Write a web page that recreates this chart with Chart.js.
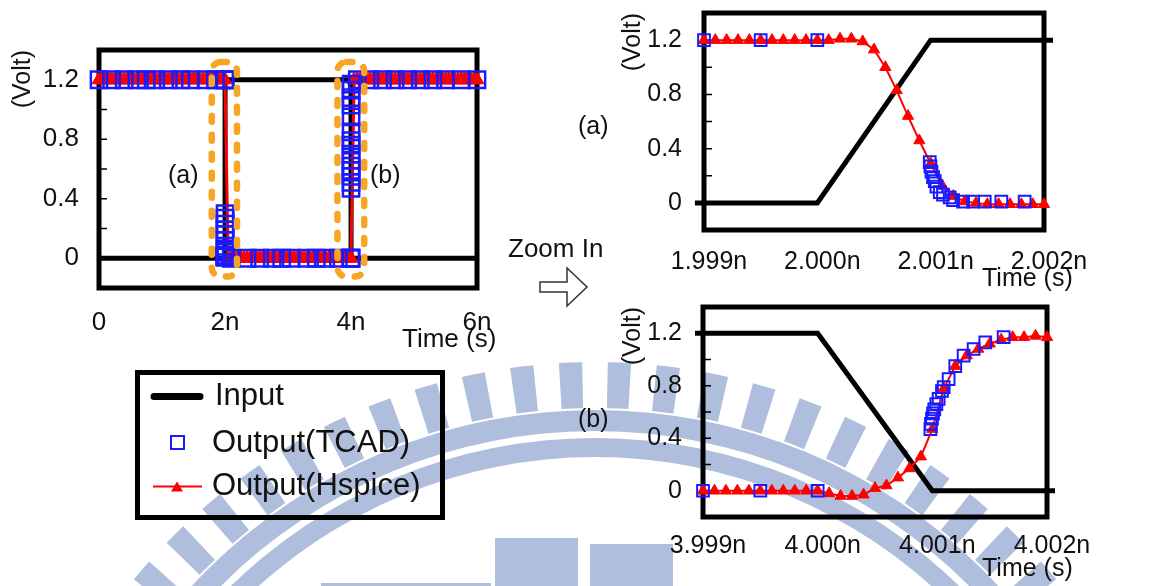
<!DOCTYPE html>
<html>
<head>
<meta charset="utf-8">
<title>Input / Output transient</title>
<script src="https://cdn.jsdelivr.net/npm/chart.js"></script>
<style>
  body { margin: 0; background: #fff; }
  #wrap { position: relative; width: 1163px; height: 586px; overflow: hidden;
          font-family: 'Liberation Sans', Arial, sans-serif; color: #111; }
  canvas, .lbl, svg { position: absolute; }
  .lbl { white-space: nowrap; line-height: 30px; }
</style>
</head>
<body>
<div id="wrap">
  <canvas id="bg" width="1163" height="586" style="left:0;top:0"></canvas>
  <canvas id="full" width="520" height="350" style="left:0;top:0"></canvas>
  <canvas id="zoomA" width="583" height="290" style="left:580px;top:0"></canvas>
  <canvas id="zoomB" width="583" height="296" style="left:580px;top:290px"></canvas>

  <div class="lbl" style="left:402px;top:323px;font-size:26px">Time (s)</div>
  <div class="lbl" style="left:982px;top:262px;font-size:25px">Time (s)</div>
  <div class="lbl" style="left:982px;top:552px;font-size:25px">Time (s)</div>
  <div class="lbl" style="left:168px;top:159px;font-size:25px">(a)</div>
  <div class="lbl" style="left:370px;top:159px;font-size:25px">(b)</div>
  <div class="lbl" style="left:578px;top:110px;font-size:25px">(a)</div>
  <div class="lbl" style="left:578px;top:403px;font-size:25px">(b)</div>
  <div class="lbl" style="left:508px;top:233px;font-size:26px">Zoom In</div>
  <svg style="left:536px;top:264px" width="56" height="46">
    <polygon points="4,18 31,18 31,4 51,23 31,42 31,28 4,28" fill="#fff" stroke="#333" stroke-width="1.5"/>
  </svg>

  <!-- leyenda -->
  <div style="position:absolute;left:135px;top:370px;width:310px;height:150px;border:5px solid #000;box-sizing:border-box"></div>
  <svg style="left:148px;top:380px" width="60" height="120">
    <line x1="6" y1="16.5" x2="52" y2="16.5" stroke="#000" stroke-width="7" stroke-linecap="round"/>
    <rect x="23" y="56" width="13" height="13" fill="none" stroke="#1a1aff" stroke-width="2"/>
    <line x1="5" y1="106.5" x2="54" y2="106.5" stroke="#ff0000" stroke-width="2"/>
    <polygon points="29,101.5 35,111.5 23,111.5" fill="#ff0000"/>
  </svg>
  <div class="lbl" style="left:215px;top:380px;font-size:31px">Input</div>
  <div class="lbl" style="left:212px;top:427px;font-size:31px">Output(TCAD)</div>
  <div class="lbl" style="left:212px;top:470px;font-size:31px">Output(Hspice)</div>
</div>

<script>
// ---- ejes comunes ----
const voltTicks = [0, 0.4, 0.8, 1.2];
const voltLabels = ['0', '0.4', '0.8', '1.2'];
const minorTicks = [0.2, 0.4, 0.6, 0.8, 1.0, 1.2];

// ---- (a) transición de bajada alrededor de 2 ns (tiempos en ns) ----
const xTicksA = [1.999, 2.000, 2.001, 2.002];
const xLabelsA = ['1.999n', '2.000n', '2.001n', '2.002n'];
const inputAT = [1.99892, 2.000, 2.001, 2.00208];
const inputAV = [0, 0, 1.2, 1.2];
const hspiceAT = [1.9990, 1.9991, 1.9992, 1.9993, 1.9994, 1.9995, 1.9996, 1.9997, 1.9998, 1.9999,
                  2.0000, 2.0001, 2.0002, 2.0003, 2.0004, 2.0005, 2.0006, 2.0007, 2.0008, 2.0009,
                  2.0010, 2.0011, 2.0012, 2.0013, 2.0014, 2.0015, 2.0016, 2.0017, 2.0018, 2.0019, 2.0020];
const hspiceAV = [1.2, 1.2, 1.2, 1.2, 1.2, 1.2, 1.2, 1.2, 1.2, 1.2,
                  1.2, 1.2, 1.21, 1.21, 1.19, 1.13, 1.0, 0.83, 0.64, 0.46,
                  0.29, 0.13, 0.05, 0.01, 0.0, -0.01, -0.01, -0.01, -0.01, -0.01, -0.01];
const tcadAT = [1.9990, 1.9995, 2.0000, 2.000992, 2.000998, 2.001007, 2.001021, 2.001036, 2.001051,
                2.00108, 2.001109, 2.001168, 2.001198, 2.001286, 2.001374, 2.001477, 2.001624, 2.001829];
const tcadAV = [1.2, 1.2, 1.2, 0.30, 0.27, 0.23, 0.19, 0.16, 0.12,
                0.08, 0.06, 0.04, 0.02, 0.01, 0.01, 0.01, 0.01, 0.01];

// ---- (b) transición de subida alrededor de 4 ns ----
const xTicksB = [3.999, 4.000, 4.001, 4.002];
const xLabelsB = ['3.999n', '4.000n', '4.001n', '4.002n'];
const inputBT = [3.99893, 4.000, 4.001, 4.00207];
const inputBV = [1.2, 1.2, 0, 0];
const hspiceBT = [3.9990, 3.9991, 3.9992, 3.9993, 3.9994, 3.9995, 3.9996, 3.9997, 3.9998, 3.9999,
                  4.0000, 4.0001, 4.0002, 4.0003, 4.0004, 4.0005, 4.0006, 4.0007, 4.0008, 4.0009,
                  4.0010, 4.0011, 4.0012, 4.0013, 4.0014, 4.0015, 4.0016, 4.0017, 4.0018, 4.0019, 4.0020];
const hspiceBV = [0, 0, 0, 0, 0, 0, 0, 0, 0, 0,
                  0, -0.02, -0.04, -0.04, -0.03, 0.02, 0.04, 0.10, 0.17, 0.26,
                  0.47, 0.78, 0.95, 1.03, 1.08, 1.12, 1.15, 1.17, 1.17, 1.18, 1.17];
const tcadBT = [3.9990, 3.9995, 4.0000, 4.000983, 4.000988, 4.000997, 4.001006, 4.001017, 4.001035,
                4.001055, 4.001084, 4.001099, 4.001142, 4.0012, 4.001273, 4.00136, 4.001462, 4.001622];
const tcadBV = [0, 0, 0, 0.47, 0.51, 0.55, 0.59, 0.62, 0.66,
                0.70, 0.76, 0.79, 0.85, 0.95, 1.03, 1.08, 1.13, 1.17];

// ---- vista completa 0..6 ns ----
const xTicksFull = [0, 2, 4, 6];
const xLabelsFull = ['0', '2n', '4n', '6n'];
const inputFullT = [0, 2, 2.001, 4, 4.001, 6];
const inputFullV = [0, 0, 1.2, 1.2, 0, 0];
// marcadores Hspice muy densos en las mesetas (forman una banda)
const hsHigh1T = [0, 0.05, 0.1, 0.15, 0.2, 0.25, 0.3, 0.35, 0.4, 0.45, 0.5, 0.55, 0.6, 0.65, 0.7, 0.75,
                  0.8, 0.85, 0.9, 0.95, 1.0, 1.05, 1.1, 1.15, 1.2, 1.25, 1.3, 1.35, 1.4, 1.45, 1.5,
                  1.55, 1.6, 1.65, 1.7, 1.75, 1.8, 1.85, 1.9, 1.95, 2.0];
const hsHigh1V = [1.2, 1.2, 1.2, 1.2, 1.2, 1.2, 1.2, 1.2, 1.2, 1.2, 1.2, 1.2, 1.2, 1.2, 1.2, 1.2,
                  1.2, 1.2, 1.2, 1.2, 1.2, 1.2, 1.2, 1.2, 1.2, 1.2, 1.2, 1.2, 1.2, 1.2, 1.2,
                  1.2, 1.2, 1.2, 1.2, 1.2, 1.2, 1.2, 1.2, 1.2, 1.2];
const hsLowT = [2.05, 2.1, 2.15, 2.2, 2.25, 2.3, 2.35, 2.4, 2.45, 2.5, 2.55, 2.6, 2.65, 2.7, 2.75,
                2.8, 2.85, 2.9, 2.95, 3.0, 3.05, 3.1, 3.15, 3.2, 3.25, 3.3, 3.35, 3.4, 3.45, 3.5,
                3.55, 3.6, 3.65, 3.7, 3.75, 3.8, 3.85, 3.9, 3.95, 4.0];
const hsLowV = [0, 0, 0, 0, 0, 0, 0, 0, 0, 0, 0, 0, 0, 0, 0,
                0, 0, 0, 0, 0, 0, 0, 0, 0, 0, 0, 0, 0, 0, 0,
                0, 0, 0, 0, 0, 0, 0, 0, 0, 0];
const hsHigh2T = [4.05, 4.1, 4.15, 4.2, 4.25, 4.3, 4.35, 4.4, 4.45, 4.5, 4.55, 4.6, 4.65, 4.7, 4.75,
                  4.8, 4.85, 4.9, 4.95, 5.0, 5.05, 5.1, 5.15, 5.2, 5.25, 5.3, 5.35, 5.4, 5.45, 5.5,
                  5.55, 5.6, 5.65, 5.7, 5.75, 5.8, 5.85, 5.9, 5.95, 6.0];
const hsHigh2V = [1.2, 1.2, 1.2, 1.2, 1.2, 1.2, 1.2, 1.2, 1.2, 1.2, 1.2, 1.2, 1.2, 1.2, 1.2,
                  1.2, 1.2, 1.2, 1.2, 1.2, 1.2, 1.2, 1.2, 1.2, 1.2, 1.2, 1.2, 1.2, 1.2, 1.2,
                  1.2, 1.2, 1.2, 1.2, 1.2, 1.2, 1.2, 1.2, 1.2, 1.2];
const tcHigh1T = [0, 0.2, 0.4, 0.6, 0.75, 0.9, 1.1, 1.3, 1.45, 1.7, 1.85];
const tcHigh1V = [1.2, 1.2, 1.2, 1.2, 1.2, 1.2, 1.2, 1.2, 1.2, 1.2, 1.2];
const tcLowT = [2.1, 2.35, 2.55, 2.75, 2.9, 3.05, 3.3, 3.45, 3.6, 3.8];
const tcLowV = [0, 0, 0, 0, 0, 0, 0, 0, 0, 0];
const tcHigh2T = [4.1, 4.3, 4.5, 4.7, 4.9, 5.1, 5.3, 5.5, 5.75, 6.0];
const tcHigh2V = [1.2, 1.2, 1.2, 1.2, 1.2, 1.2, 1.2, 1.2, 1.2, 1.2];
// recuadros naranjas (a) y (b) en la vista completa
const zoomBoxT = [[1.79, 2.19], [3.785, 4.21]];
const zoomBoxV = [-0.123, 1.32];

const BLUE = '#1a1aff';
const RED = '#ff0000';
const TXT = '#111';
const fontFam = "'Liberation Sans', Arial, sans-serif";

const pts = (t, v) => t.map((x, i) => ({ x: x, y: v[i] }));

// Marco negro grueso y marcas menores del eje Y
const framePlugin = {
  id: 'frame',
  beforeDatasetsDraw(chart) {
    const { ctx, chartArea: a, scales: { y } } = chart;
    ctx.save();
    ctx.strokeStyle = '#000';
    ctx.lineWidth = 5;
    ctx.strokeRect(a.left, a.top, a.right - a.left, a.bottom - a.top);
    ctx.lineWidth = 1.5;
    ctx.beginPath();
    minorTicks.forEach(v => {
      const py = y.getPixelForValue(v);
      ctx.moveTo(a.left, py);
      ctx.lineTo(a.left + 8, py);
    });
    ctx.stroke();
    ctx.restore();
  }
};

// Recuadros punteados naranjas
const boxPlugin = {
  id: 'zoomBoxes',
  afterDatasetsDraw(chart) {
    const { ctx, scales: { x, y } } = chart;
    ctx.save();
    ctx.strokeStyle = '#F6A525';
    ctx.lineWidth = 6.5;
    ctx.lineCap = 'round';
    ctx.setLineDash([6, 13]);
    const y0 = y.getPixelForValue(zoomBoxV[1]);
    const y1 = y.getPixelForValue(zoomBoxV[0]);
    zoomBoxT.forEach(b => {
      const x0 = x.getPixelForValue(b[0]);
      const x1 = x.getPixelForValue(b[1]);
      ctx.beginPath();
      ctx.roundRect(x0, y0, x1 - x0, y1 - y0, 9);
      ctx.stroke();
    });
    ctx.restore();
  }
};

function buildChart(id, cfg) {
  return new Chart(document.getElementById(id), {
    type: 'line',
    data: {
      datasets: [
        { label: 'Output(TCAD)', data: pts(cfg.tcadT, cfg.tcadV), showLine: false,
          pointStyle: 'rect', pointRadius: cfg.sqR, pointBorderWidth: cfg.sqW,
          pointBorderColor: BLUE, pointBackgroundColor: 'rgba(0,0,0,0)', clip: false },
        { label: 'Output(Hspice)', data: pts(cfg.hsT, cfg.hsV), borderColor: RED, borderWidth: cfg.hsW,
          pointStyle: 'triangle', pointRadius: cfg.triR, pointBackgroundColor: RED,
          pointBorderColor: RED, pointBorderWidth: 1, clip: false },
        { label: 'Input', data: pts(cfg.inT, cfg.inV), borderColor: '#000', borderWidth: 5,
          pointRadius: 0, clip: false }
      ]
    },
    options: {
      responsive: false,
      animation: false,
      events: [],
      layout: { padding: cfg.pad },
      plugins: { legend: { display: false }, tooltip: { enabled: false } },
      scales: {
        x: {
          type: 'linear',
          min: cfg.xTicks[0],
          max: cfg.xTicks[cfg.xTicks.length - 1],
          grid: { display: false },
          border: { display: false },
          afterBuildTicks: s => { s.ticks = cfg.xTicks.map(v => ({ value: v })); },
          afterFit: s => { s.height = cfg.xH; s.paddingLeft = 0; s.paddingRight = 0; },
          ticks: { font: { family: fontFam, size: cfg.tickSize }, color: TXT, padding: cfg.xPad,
                   labelOffset: cfg.xOff, maxRotation: 0, autoSkip: false,
                   callback: (v, i) => cfg.xLabels[i] }
        },
        y: {
          min: -0.2,
          max: 1.4,
          grid: { display: false },
          border: { display: false },
          afterBuildTicks: s => { s.ticks = voltTicks.map(v => ({ value: v })); },
          afterFit: s => { s.width = cfg.yW; s.paddingTop = 0; s.paddingBottom = 0; },
          ticks: { font: { family: fontFam, size: cfg.tickSize }, color: TXT, padding: cfg.yPad,
                   autoSkip: false, callback: (v, i) => voltLabels[i] },
          title: { display: true, text: '(Volt)', align: 'end', color: TXT,
                   font: { family: fontFam, size: 25 }, padding: { top: cfg.titlePad, bottom: 0 } }
        }
      }
    },
    plugins: cfg.plugins
  });
}

// Marca de agua de fondo (logo azul claro)
function drawWatermark() {
  const g = document.getElementById('bg').getContext('2d');
  g.fillStyle = 'rgb(174,190,220)';
  const cx = 595, cy = 960, R = 550;
  g.beginPath();
  g.arc(cx, cy, R, Math.PI, 2 * Math.PI);
  g.arc(cx, cy, R - 21, 2 * Math.PI, Math.PI, true);
  g.fill();
  g.beginPath();
  g.arc(cx, cy, R - 28, Math.PI, 2 * Math.PI);
  g.arc(cx, cy, R - 47, 2 * Math.PI, Math.PI, true);
  g.fill();
  for (let k = -16; k <= 15; k++) {
    const a = -Math.PI / 2 + (k + 0.5) * 0.082;
    const h = 0.0195;
    g.beginPath();
    g.arc(cx, cy, R + 48, a - h, a + h);
    g.arc(cx, cy, R + 2, a + h, a - h, true);
    g.fill();
  }
  g.fillRect(495, 538, 83, 48);
  g.fillRect(590, 544, 83, 42);
  g.fillRect(321, 583, 170, 3);
}

drawWatermark();

buildChart('full', {
  tcadT: [...tcHigh1T, ...tcadAT, ...tcLowT, ...tcadBT, ...tcHigh2T],
  tcadV: [...tcHigh1V, ...tcadAV, ...tcLowV, ...tcadBV, ...tcHigh2V],
  hsT: [...hsHigh1T, ...hsLowT, ...hsHigh2T],
  hsV: [...hsHigh1V, ...hsLowV, ...hsHigh2V],
  inT: inputFullT, inV: inputFullV,
  xTicks: xTicksFull, xLabels: xLabelsFull,
  sqR: 11.5, sqW: 2.5, triR: 8, hsW: 3, tickSize: 26,
  pad: { left: 0, top: 50, right: 43, bottom: 0 },
  yW: 99, xH: 62, yPad: 12, xPad: 11, xOff: 0, titlePad: 8,
  plugins: [framePlugin, boxPlugin]
});

buildChart('zoomA', {
  tcadT: tcadAT, tcadV: tcadAV,
  hsT: hspiceAT, hsV: hspiceAV,
  inT: inputAT, inV: inputAV,
  xTicks: xTicksA, xLabels: xLabelsA,
  sqR: 8.3, sqW: 2, triR: 6.5, hsW: 2, tickSize: 25,
  pad: { left: 0, top: 13, right: 119, bottom: 0 },
  yW: 124, xH: 60, yPad: 14, xPad: 9, xOff: 5, titlePad: 38,
  plugins: [framePlugin]
});

buildChart('zoomB', {
  tcadT: tcadBT, tcadV: tcadBV,
  hsT: hspiceBT, hsV: hspiceBV,
  inT: inputBT, inV: inputBV,
  xTicks: xTicksB, xLabels: xLabelsB,
  sqR: 8.3, sqW: 2, triR: 6.5, hsW: 2, tickSize: 25,
  pad: { left: 0, top: 17, right: 116, bottom: 0 },
  yW: 123, xH: 69, yPad: 13, xPad: 6, xOff: 5, titlePad: 38,
  plugins: [framePlugin]
});
</script>
</body>
</html>
